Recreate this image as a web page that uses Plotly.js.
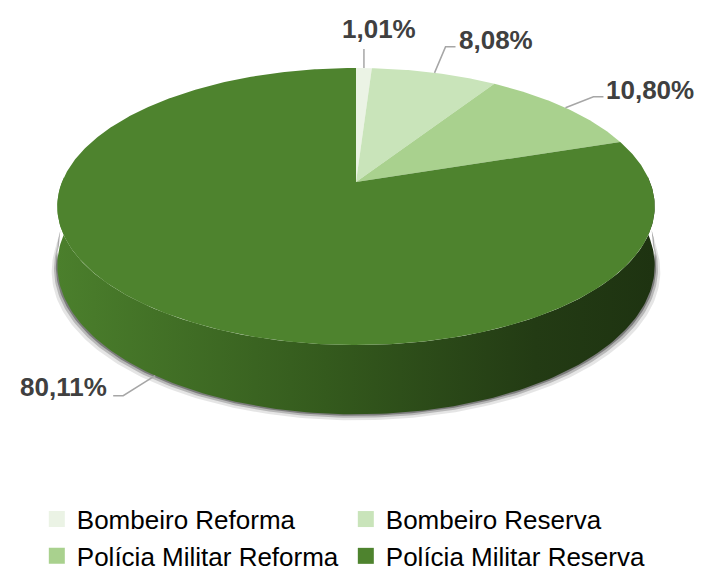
<!DOCTYPE html>
<html><head><meta charset="utf-8">
<script src="https://cdn.plot.ly/plotly-3.0.1.min.js"></script>
<style>html,body{margin:0;padding:0;background:#fff}</style>
</head><body><div id="chart" style="width:708px;height:575px"></div>
<script>
// ---- data ----
const categories = ['Bombeiro Reforma', 'Bombeiro Reserva', 'Polícia Militar Reforma', 'Polícia Militar Reserva'];
const values = [1.01, 8.08, 10.80, 80.11];
const valueLabels = ['1,01%', '8,08%', '10,80%', '80,11%'];
const colors = ['#EBF3E5', '#C9E4BA', '#A9D18E', '#4E832E'];

// ---- geometry of the tilted (perspective) pie, in pixel space ----
const CX = 356, CY = 182, RX = 294, RY = 134.2, B = -0.177, DEPTH = 57;
function proj(theta) { // degrees, clockwise from 12 o'clock
  const t = theta * Math.PI / 180, u = Math.sin(t), v = -Math.cos(t), d = 1 + B * v;
  return {x: CX + RX * u / d, y: CY + RY * v / d, h: DEPTH / d};
}
const total = values.reduce((a, b) => a + b, 0);
const starts = [], ends = [];
let acc = 0;
values.forEach(v => { starts.push(acc / total * 360); acc += v; ends.push(acc / total * 360); });

const traces = [];
// shadow
[[6, 'rgba(0,0,0,0.10)'], [3.5, 'rgba(0,0,0,0.20)'], [1.5, 'rgba(0,0,0,0.32)']].forEach(([off, col]) => {
  const xs = [], ys = [];
  for (let a = 92; a <= 268; a += 1) { const p = proj(a); xs.push(CX + (p.x - CX) * (1 + off / 320)); ys.push(p.y + p.h + off); }
  for (let a = 268; a >= 92; a -= 1) { const p = proj(a); xs.push(p.x); ys.push(p.y + p.h - 14); }
  traces.push({x: xs, y: ys, mode: 'lines', fill: 'toself', fillcolor: col, line: {width: 0}, hoverinfo: 'skip', showlegend: false});
});
// side wall (front, belongs to last slice)
{
  const xs = [], ys = [];
  for (let a = 88; a <= 272; a += 1) { const p = proj(a); xs.push(p.x); ys.push(p.y); }
  for (let a = 272; a >= 88; a -= 1) { const p = proj(a); xs.push(p.x); ys.push(p.y + p.h); }
  traces.push({x: xs, y: ys, mode: 'lines', fill: 'toself', line: {width: 0},
    fillgradient: {type: 'horizontal', colorscale: [[0, '#4B7F2C'], [0.45, '#345A1D'], [0.8, '#233B14'], [1, '#1E3311']]},
    hoverinfo: 'skip', showlegend: false});
}
// top face slices
values.forEach((v, i) => {
  const xs = [CX], ys = [CY];
  const n = Math.max(4, Math.ceil((ends[i] - starts[i]) / 0.5));
  for (let k = 0; k <= n; k++) { const p = proj(starts[i] + (ends[i] - starts[i]) * k / n); xs.push(p.x); ys.push(p.y); }
  xs.push(CX); ys.push(CY);
  traces.push({x: xs, y: ys, mode: 'lines', fill: 'toself', fillcolor: colors[i], line: {width: 0},
    name: categories[i], hoverinfo: 'skip', showlegend: false});
});
// leader lines + labels
const annotations = [];
const leaderSpec = [ // elbow offset, horizontal tail, label anchor side
  {base: 'top', elbow: [0, -19], tail: 0, lab: [15, -20], xanchor: 'center'},
  {base: 'top', elbow: [11, -26], tail: 10, lab: [1, -7], xanchor: 'left'},
  {base: 'top', elbow: [28, -11], tail: 10, lab: [1, -7], xanchor: 'left'},
  {base: 'bottom', elbow: [-32, 20], tail: -10, lab: [-4, -9], xanchor: 'right'}
];
values.forEach((v, i) => {
  const s = leaderSpec[i];
  const p = proj((starts[i] + ends[i]) / 2);
  const ax = p.x, ay = s.base === 'top' ? p.y : p.y + p.h;
  const ex = ax + s.elbow[0], ey = ay + s.elbow[1];
  const tx = ex + s.tail, ty = ey;
  traces.push({x: [ax, ex, tx], y: [ay, ey, ty], mode: 'lines', line: {color: '#A6A6A6', width: 1.5},
    hoverinfo: 'skip', showlegend: false});
  annotations.push({x: tx + s.lab[0], y: ty + s.lab[1], xref: 'x', yref: 'y', text: valueLabels[i], showarrow: false,
    xanchor: s.xanchor, yanchor: 'middle',
    font: {family: 'Liberation Sans, Arial, sans-serif', size: 26, weight: 'bold', color: '#404040'}});
});
// legend entries
categories.forEach((c, i) => {
  traces.push({x: [null], y: [null], mode: 'markers', name: c, marker: {symbol: 'square', size: 16, color: colors[i]},
    hoverinfo: 'skip', showlegend: true});
});

const layout = {
  width: 708, height: 575,
  margin: {l: 0, r: 0, t: 0, b: 0, autoexpand: false},
  paper_bgcolor: '#ffffff', plot_bgcolor: '#ffffff',
  xaxis: {range: [0, 708], visible: false, fixedrange: true},
  yaxis: {range: [575, 0], visible: false, fixedrange: true},
  showlegend: true,
  legend: {orientation: 'h', x: 0.052, y: 0.138, xanchor: 'left', yanchor: 'top',
    entrywidth: 264, entrywidthmode: 'pixels', itemclick: false, tracegroupgap: 0,
    font: {family: 'Liberation Sans, Arial, sans-serif', size: 26, color: '#000000'}},
  annotations: annotations,
  hovermode: false
};
Plotly.newPlot('chart', traces, layout, {displayModeBar: false, staticPlot: true});
</script></body></html>
